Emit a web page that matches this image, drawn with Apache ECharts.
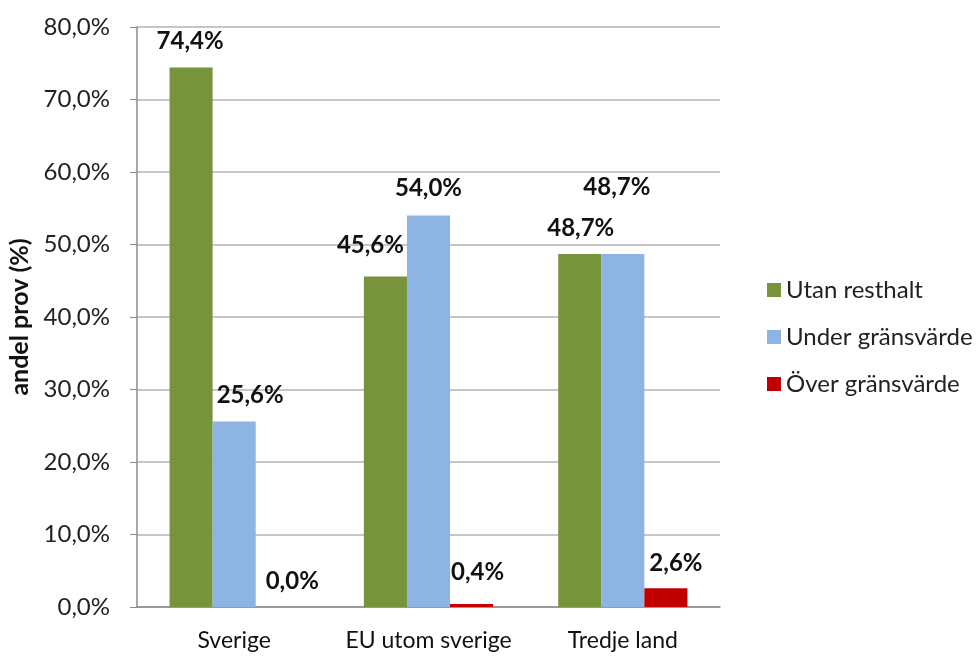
<!DOCTYPE html>
<html>
<head>
<meta charset="utf-8">
<script src="https://cdn.jsdelivr.net/npm/echarts@6/dist/echarts.min.js"></script>
<style>html,body{margin:0;padding:0;background:#fff}#c{width:979px;height:657px}</style>
</head>
<body>
<div id="c"></div>
<script>
const categories = ['Sverige', 'EU utom sverige', 'Tredje land'];
const seriesNames = ['Utan resthalt', 'Under gränsvärde', 'Över gränsvärde'];
const utanResthalt = [74.4, 45.6, 48.7];
const underGransvarde = [25.6, 54.0, 48.7];
const overGransvarde = [0.0, 0.4, 2.6];
const yTicks = [0, 10, 20, 30, 40, 50, 60, 70, 80];

const colors = ['#77933C', '#8EB4E3', '#C00000'];
const labelOffsets = [
  [[-1, 0], [-15, -5], [1, 0]],
  [[16, 0], [0, -1], [-6, -41]],
  [[15, 0], [6, -6], [10, 1]]
];
const FONT = 'Lato, "Open Sans", sans-serif';
const fmt = v => v.toFixed(1).replace('.', ',') + '%';

const values = [utanResthalt, underGransvarde, overGransvarde];
const series = values.map((arr, si) => ({
  name: seriesNames[si],
  type: 'bar',
  barGap: '0%',
  barCategoryGap: '33.5%',
  itemStyle: { color: colors[si] },
  data: arr.map((v, ci) => ({
    value: v,
    label: { offset: labelOffsets[si][ci] }
  })),
  label: {
    show: true,
    position: 'top',
    distance: 14,
    fontFamily: FONT,
    fontWeight: 'bold',
    fontSize: 24,
    color: '#111',
    formatter: p => fmt(p.value)
  }
}));

const chart = echarts.init(document.getElementById('c'), null, { renderer: 'canvas' });
chart.setOption({
  animation: false,
  textStyle: { fontFamily: FONT },
  grid: { left: 137, right: 259, top: 27, bottom: 50, containLabel: false, outerBoundsMode: 'none' },
  legend: {
    orient: 'vertical',
    left: 762,
    top: 273,
    itemWidth: 14,
    itemHeight: 14,
    itemGap: 23,
    icon: 'rect',
    textStyle: { fontFamily: FONT, fontSize: 24, color: '#222', padding: [0, 0, 0, 0] },
    data: seriesNames
  },
  xAxis: {
    type: 'category',
    data: categories,
    axisLine: { lineStyle: { color: '#8c8c8c', width: 1.5 } },
    axisTick: { show: false },
    axisLabel: { interval: 0, fontFamily: FONT, fontSize: 23, color: '#111', margin: 22 }
  },
  yAxis: {
    type: 'value',
    min: yTicks[0],
    max: yTicks[yTicks.length - 1],
    interval: 10,
    name: 'andel prov (%)',
    nameLocation: 'middle',
    nameGap: 104,
    nameTextStyle: { fontFamily: FONT, fontWeight: 'bold', fontSize: 25, color: '#111' },
    axisLine: { show: true, lineStyle: { color: '#8c8c8c', width: 1.5 } },
    axisTick: { show: true, length: 7, lineStyle: { color: '#8c8c8c' } },
    axisLabel: { fontFamily: FONT, fontSize: 24, color: '#222', margin: 27, formatter: v => fmt(v) },
    splitLine: { lineStyle: { color: '#b3b3b3', width: 1.5 } }
  },
  series: series
});
</script>
</body>
</html>
